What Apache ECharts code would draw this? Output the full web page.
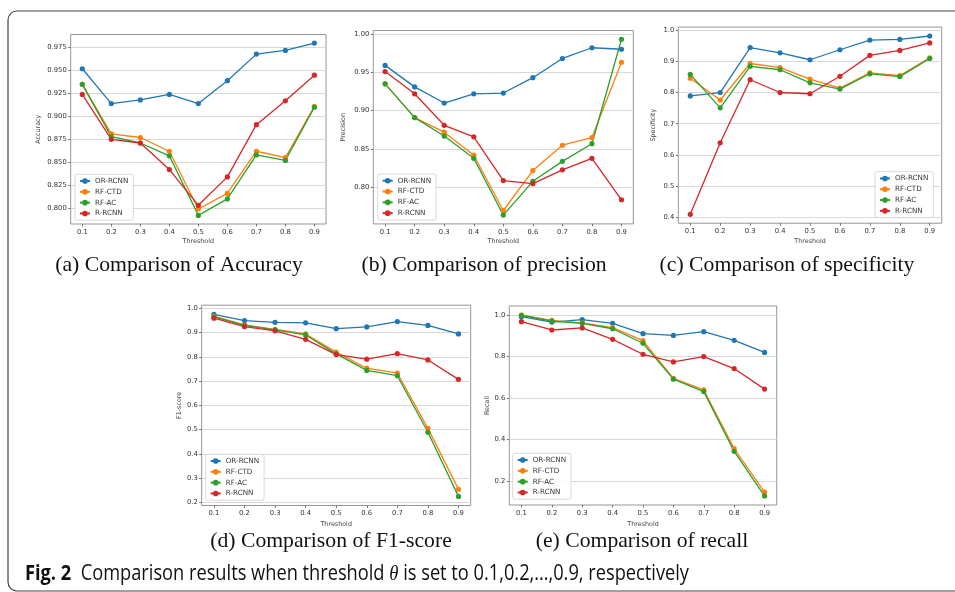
<!DOCTYPE html>
<html><head><meta charset="utf-8">
<script src="https://cdn.jsdelivr.net/npm/echarts@6/dist/echarts.min.js"></script>
<style>html,body{margin:0;padding:0;background:#fff}#c{width:955px;height:592px}</style>
</head><body><div id="c"></div>
<script>
const thresholds = [0.1,0.2,0.3,0.4,0.5,0.6,0.7,0.8,0.9];
const methods = ['OR-RCNN','RF-CTD','RF-AC','R-RCNN'];

const accOR  = [0.952,0.914,0.918,0.924,0.914,0.939,0.968,0.972,0.980];
const accCTD = [0.935,0.881,0.877,0.862,0.799,0.816,0.862,0.855,0.911];
const accAC  = [0.935,0.878,0.871,0.857,0.792,0.810,0.858,0.852,0.910];
const accRR  = [0.924,0.875,0.871,0.842,0.803,0.834,0.891,0.917,0.945];

const preOR  = [0.959,0.931,0.910,0.922,0.923,0.943,0.968,0.982,0.980];
const preCTD = [0.935,0.891,0.872,0.842,0.770,0.822,0.855,0.865,0.963];
const preAC  = [0.935,0.891,0.867,0.838,0.764,0.808,0.834,0.857,0.993];
const preRR  = [0.951,0.922,0.881,0.866,0.809,0.805,0.823,0.838,0.784];

const speOR  = [0.789,0.800,0.944,0.927,0.905,0.937,0.968,0.970,0.981];
const speCTD = [0.846,0.776,0.893,0.880,0.843,0.814,0.863,0.854,0.911];
const speAC  = [0.858,0.751,0.884,0.873,0.831,0.811,0.860,0.851,0.909];
const speRR  = [0.410,0.639,0.841,0.800,0.796,0.852,0.919,0.935,0.959];

const f1OR   = [0.975,0.949,0.942,0.940,0.916,0.923,0.945,0.929,0.894];
const f1CTD  = [0.967,0.931,0.913,0.894,0.819,0.753,0.733,0.505,0.254];
const f1AC   = [0.964,0.929,0.911,0.890,0.812,0.744,0.722,0.489,0.225];
const f1RR   = [0.959,0.924,0.907,0.872,0.809,0.790,0.813,0.787,0.707];

const recOR  = [0.992,0.966,0.978,0.960,0.910,0.902,0.920,0.878,0.820];
const recCTD = [1.000,0.974,0.962,0.939,0.877,0.695,0.639,0.356,0.146];
const recAC  = [0.999,0.971,0.960,0.934,0.864,0.691,0.631,0.343,0.128];
const recRR  = [0.968,0.928,0.938,0.883,0.811,0.774,0.800,0.742,0.643];

const accTicks = [0.800,0.825,0.850,0.875,0.900,0.925,0.950,0.975];
const preTicks = [0.80,0.85,0.90,0.95,1.00];
const speTicks = [0.4,0.5,0.6,0.7,0.8,0.9,1.0];
const f1Ticks  = [0.2,0.3,0.4,0.5,0.6,0.7,0.8,0.9,1.0];
const recTicks = [0.2,0.4,0.6,0.8,1.0];

const yNames = ['Accuracy','Precision','Specificity','F1-score','Recall'];
const captions = ['(a) Comparison of Accuracy','(b) Comparison of precision','(c) Comparison of specificity','(d) Comparison of F1-score','(e) Comparison of recall'];
const figLabel = 'Fig. 2';
const figText = 'Comparison results when threshold ';
const figTheta = '\u03b8';
const figText2 = ' is set to 0.1,0.2,\u2026,0.9, respectively';

const panelData = [
  {series:[accOR,accCTD,accAC,accRR], ticks:accTicks, dec:3},
  {series:[preOR,preCTD,preAC,preRR], ticks:preTicks, dec:2},
  {series:[speOR,speCTD,speAC,speRR], ticks:speTicks, dec:1},
  {series:[f1OR,f1CTD,f1AC,f1RR], ticks:f1Ticks, dec:1},
  {series:[recOR,recCTD,recAC,recRR], ticks:recTicks, dec:1}
];

// layout (pixels)
const layout = [
  {rect:[70.7,34.5,255.3,189.5], leg:[75,174.3], yGap:29.5, xGap:14.5, cap:[179,265]},
  {rect:[373.3,30.5,260,193.4], leg:[377.7,174], yGap:27.3, xGap:14.5, cap:[484,265]},
  {rect:[678.3,27.1,263.4,196.1], leg:[875,171.7], yGap:21.7, xGap:15.5, cap:[787,265]},
  {rect:[201.7,305.2,269,200.3], leg:[205.7,454.3], yGap:19.1, xGap:15.5, cap:[331,541]},
  {rect:[509.3,306,267.4,199], leg:[512.7,453.3], yGap:18.7, xGap:16, cap:[642,541]}
];
const colors = ['#1f77b4','#ff7f0e','#2ca02c','#d62728'];
const tickFont = 'DejaVu Sans';

const grid = [], xAxis = [], yAxis = [], series = [], legend = [], graphic = [];
panelData.forEach((p, i) => {
  const L = layout[i];
  grid.push({left:L.rect[0], top:L.rect[1], width:L.rect[2], height:L.rect[3], show:true,
    borderColor:'#8a8a8a', borderWidth:0.9, backgroundColor:'transparent'});
  let lo = Infinity, hi = -Infinity;
  p.series.forEach(s => s.forEach(v => {lo = Math.min(lo, v); hi = Math.max(hi, v);}));
  const pad = (hi - lo) * 0.05;
  xAxis.push({type:'value', gridIndex:i, min:0.06, max:0.94,
    name:'Threshold', nameLocation:'middle', nameGap:L.xGap,
    nameTextStyle:{fontSize:6.4, fontFamily:tickFont, color:'#444'},
    axisLine:{show:false},
    axisTick:{show:true, length:2.5, customValues:thresholds, lineStyle:{color:'#555', width:0.8}},
    axisLabel:{customValues:thresholds, fontSize:6.8, fontFamily:tickFont, color:'#333', margin:4.5,
      formatter:v => v.toFixed(1)},
    splitLine:{show:false}});
  yAxis.push({type:'value', gridIndex:i, min:lo - pad, max:hi + pad,
    name:yNames[i], nameLocation:'middle', nameGap:L.yGap, nameRotate:90,
    nameTextStyle:{fontSize:6.4, fontFamily:tickFont, color:'#444'},
    axisLine:{show:false},
    axisTick:{show:true, length:2.5, customValues:p.ticks, lineStyle:{color:'#555', width:0.8}},
    axisLabel:{customValues:p.ticks, fontSize:6.8, fontFamily:tickFont, color:'#333', margin:4,
      formatter:v => v.toFixed(p.dec)},
    splitLine:{show:true, lineStyle:{color:'#d8d8d8', width:1.1}}});
  p.series.forEach((vals, k) => {
    series.push({type:'line', name:methods[k], xAxisIndex:i, yAxisIndex:i,
      data:thresholds.map((t, j) => [t, vals[j]]),
      symbol:'circle', symbolSize:5.2, showSymbol:true,
      lineStyle:{color:colors[k], width:1.3}, itemStyle:{color:colors[k]},
      emphasis:{disabled:true}, animation:false});
  });
  legend.push({orient:'vertical', left:L.leg[0], top:L.leg[1], data:methods, selectedMode:false,
    itemWidth:10, itemHeight:7, itemGap:3.3, padding:[3,5,3,4],
    borderColor:'#cfcfcf', borderWidth:0.8, borderRadius:2, backgroundColor:'rgba(255,255,255,0.85)',
    textStyle:{fontSize:7.2, fontFamily:tickFont, color:'#333', lineHeight:7.5}});
  graphic.push({type:'text', x:L.cap[0], y:L.cap[1],
    style:{text:captions[i], textAlign:'center', textVerticalAlign:'middle', align:'center', verticalAlign:'middle',
      font:'21.7px "Liberation Serif"', fill:'#111'}});
});

// fit the figure caption to its width in the reference
const capSans = '"Open Sans"';
const mctx = document.createElement('canvas').getContext('2d');
function tw(font, s) { mctx.font = font; return mctx.measureText(s).width; }
const capWidth = tw('bold 21.5px ' + capSans, figLabel) + tw('21.5px ' + capSans, '  ' + figText + figText2)
  + tw('italic 22px "Liberation Serif"', figTheta);
const capScale = 664 / capWidth;

graphic.push({type:'rect', shape:{x:8, y:11, width:1000, height:580, r:9},
  style:{fill:'none', stroke:'#444', lineWidth:1.2}, z:-1, silent:true});
graphic.push({type:'text', x:25, y:574, scaleX:capScale,
  style:{rich:{
      b:{fontFamily:capSans, fontWeight:'bold', fontSize:21.5, fill:'#111'},
      n:{fontFamily:capSans, fontSize:21.5, fill:'#111'},
      t:{fontFamily:'"Liberation Serif"', fontStyle:'italic', fontSize:22, fill:'#111'}},
    text:'{b|' + figLabel + '}{n|  ' + figText + '}{t|' + figTheta + '}{n|' + figText2 + '}',
    verticalAlign:'middle', align:'left'}});

const chart = echarts.init(document.getElementById('c'), null, {renderer:'canvas'});
chart.setOption({animation:false, backgroundColor:'#fff', grid, xAxis, yAxis, series, legend, graphic});
</script></body></html>
